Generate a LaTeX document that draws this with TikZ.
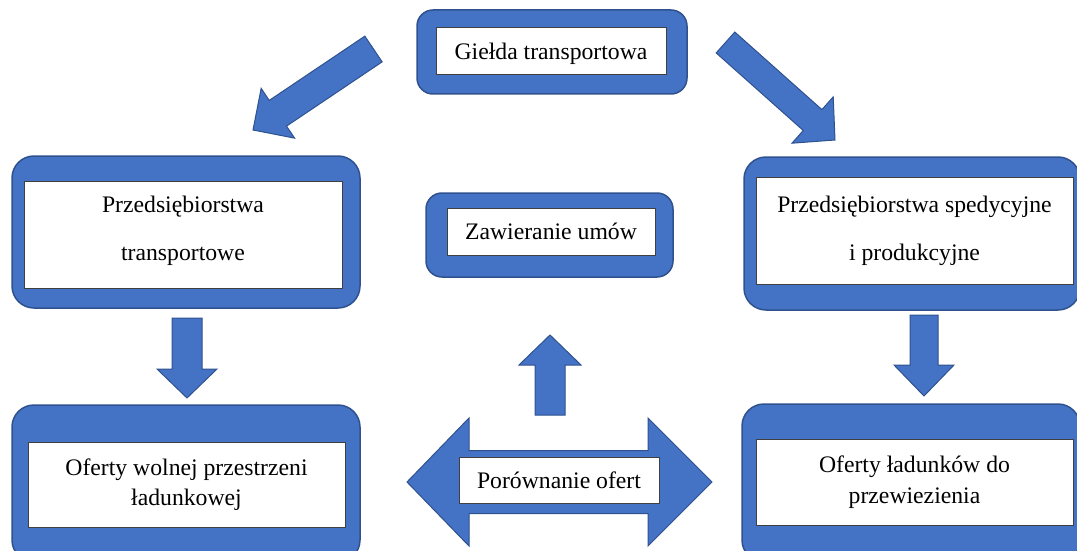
\documentclass[tikz,border=0pt]{standalone}
\usepackage{fontspec}
\setmainfont{Liberation Serif}
\usepackage{xcolor}
\usetikzlibrary{calc}
\definecolor{boxblue}{HTML}{4472C4}
\definecolor{boxedge}{HTML}{2F528F}
\definecolor{inkframe}{HTML}{404040}

\tikzset{
  outerbox/.style={draw=boxedge, fill=boxblue, line width=1.5pt,
                   inner sep=0pt, rounded corners=22pt},
  innerbox/.style={draw=inkframe, fill=white, line width=1pt, inner sep=0pt,
                   align=center, font=\fontsize{23.7}{30.5}\selectfont},
  widelines/.style={font=\fontsize{23.7}{48}\selectfont},
  arrowfill/.style={draw=boxedge, fill=boxblue, line width=1pt, line join=miter},
}

% block arrow: tail, tip, half shaft, half head, head length
\newcommand{\blockarrow}[5]{%
  \coordinate (ba-base) at ($(#2)!#5!(#1)$);
  \draw[arrowfill] ($(#1)!#3!90:(#2)$) -- ($(ba-base)!#3!90:(#2)$)
    -- ($(ba-base)!#4!90:(#2)$) -- (#2)
    -- ($(ba-base)!#4!-90:(#2)$) -- ($(ba-base)!#3!-90:(#2)$)
    -- ($(#1)!#3!-90:(#2)$) -- cycle;
}

\begin{document}
\begin{tikzpicture}[x=1pt,y=-1pt]
  \useasboundingbox (0,0) rectangle (1077,551);

  % Exchange at the top
  \node[outerbox, rounded corners=16pt, minimum width=270pt, minimum height=84pt]
    (gielda) at (552,52) {};
  \node[innerbox, text depth=0pt, minimum width=230pt, minimum height=47pt]
    (gielda-txt) at (551,51.5) {Giełda transportowa};

  % Carriers and shippers
  \node[outerbox, minimum width=348pt, minimum height=152pt]
    (przewoznicy) at (186,232) {};
  \node[innerbox, widelines, text depth=13pt, minimum width=318pt, minimum height=107pt]
    (przewoznicy-txt) at (183,234.5) {Przedsiębiorstwa\\transportowe};
  \node[outerbox, minimum width=336pt, minimum height=153pt]
    (spedytorzy) at (912,233.5) {};
  \node[innerbox, widelines, minimum width=317pt, minimum height=107pt]
    (spedytorzy-txt) at (914.5,230.5) {Przedsiębiorstwa spedycyjne\\i produkcyjne};

  % Contracts in the middle
  \node[outerbox, rounded corners=16pt, minimum width=247pt, minimum height=84pt]
    (umowy) at (549.5,235) {};
  \node[innerbox, minimum width=208pt, minimum height=47pt]
    (umowy-txt) at (551,231.5) {Zawieranie umów};

  % Offers at the bottom
  \node[outerbox, minimum width=348pt, minimum height=157pt]
    (oferty-prz) at (186,483.5) {};
  \node[innerbox, minimum width=317pt, minimum height=85pt]
    (oferty-prz-txt) at (186.5,484.5) {Oferty wolnej przestrzeni\\ładunkowej};
  \node[outerbox, minimum width=338pt, minimum height=158pt]
    (oferty-lad) at (911,483) {};
  \node[innerbox, minimum width=317pt, minimum height=86pt]
    (oferty-lad-txt) at (914.5,482) {Oferty ładunków do\\przewiezienia};

  % Block arrows
  \coordinate (gl-tail) at (373.5,49);  \coordinate (gl-tip) at (253,130);
  \coordinate (gr-tail) at (725.5,42.5); \coordinate (gr-tip) at (835,140);
  \coordinate (pl-tail) at (187,318);   \coordinate (pl-tip) at (187,398);
  \coordinate (pr-tail) at (924,315);   \coordinate (pr-tip) at (924,396);
  \coordinate (up-tail) at (550,415);   \coordinate (up-tip) at (550,335);
  \foreach \tailpt/\tippt/\shaft/\head/\len in
    {gl-tail/gl-tip/15.5pt/30pt/30pt, gr-tail/gr-tip/14pt/31pt/30pt,
     pl-tail/pl-tip/15pt/30pt/29pt, pr-tail/pr-tip/14pt/30pt/31pt,
     up-tail/up-tip/15pt/31pt/30pt}
    \blockarrow{\tailpt}{\tippt}{\shaft}{\head}{\len};

  % Comparison of offers
  \coordinate (por-l) at (407,482);
  \coordinate (por-r) at (712,482);
  \draw[arrowfill] (por-l) -- ++(62,-64) -- ++(0,32.5)
    -- ($(por-r)+(-64,-31.5)$) -- ++(0,-32.5) -- (por-r) -- ++(-64,64)
    -- ++(0,-32.5) -- ($(por-l)+(62,31.5)$) -- ++(0,32.5) -- cycle;
  \node[innerbox, minimum width=200pt, minimum height=46pt]
    (porownanie) at (559,480) {Porównanie ofert};
\end{tikzpicture}
\end{document}
